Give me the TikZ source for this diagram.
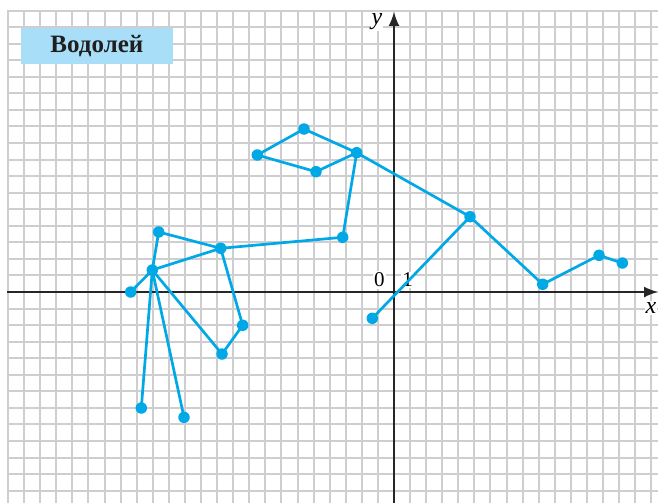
\documentclass[tikz,border=0pt]{standalone}
\usepackage{fontspec}
\setmainfont{Liberation Serif}
\usetikzlibrary{arrows.meta}
\definecolor{star}{RGB}{0,169,230}
\definecolor{gridc}{RGB}{206,206,209}
\definecolor{labelbg}{RGB}{168,222,247}
\begin{document}
\begin{tikzpicture}[x=1pt,y=-1pt,
  gridline/.style={gridc, line width=2pt},
  axis/.style={line width=1.6pt, black!85, -{Latex[length=14pt,width=11pt]}},
  dot/.style={circle, fill=star, inner sep=0pt, minimum size=11.5pt},
  link/.style={star, line width=2.7pt},
  axlabel/.style={fill=white, inner sep=1.5pt, font=\fontsize{21}{21}\selectfont}]
\useasboundingbox (0,0) rectangle (658,503);
% grid
\foreach \k in {-24,...,16} \draw[gridline] ({round(394+16.08*\k)},11) -- ({round(394+16.08*\k)},503);
\foreach \k in {-17,...,12} \draw[gridline] (7,{round(292+16.55*\k)}) -- (658,{round(292+16.55*\k)});
% axes
\coordinate (xs) at (7,292);
\coordinate (xe) at (658,292);
\coordinate (ys) at (394,503);
\coordinate (ye) at (394,12);
\draw[axis] (xs) -- (xe);
\draw[axis] (ys) -- (ye);
\node[axlabel, font=\itshape\fontsize{24}{24}\selectfont, inner sep=1pt] (xl) at (651,308) {x};
\node[axlabel, font=\itshape\fontsize{24}{24}\selectfont, inner sep=1pt] (yl) at (377,21.5) {y};
\node[axlabel] (zero) at (379.3,280) {0};
\node[axlabel] (one) at (407.7,280) {1};
% title
\node[fill=labelbg, minimum width=151.7pt, minimum height=36.6pt, inner sep=0pt,
      font=\bfseries\fontsize{25}{25}\selectfont, text=black!88] (title) at (96.85,46) {Водолей};
% stars
\node[dot] (A) at (130.7,292) {};
\node[dot] (B) at (152.3,270) {};
\node[dot] (C) at (158.7,232) {};
\node[dot] (D) at (220.7,248.3) {};
\node[dot] (E) at (242.7,325.3) {};
\node[dot] (F) at (222,354) {};
\node[dot] (G) at (141.3,408) {};
\node[dot] (H) at (184,417.3) {};
\node[dot] (I) at (342.7,237.3) {};
\node[dot] (J) at (356.7,152.7) {};
\node[dot] (K) at (257.3,155) {};
\node[dot] (L) at (304,129) {};
\node[dot] (M) at (316,171.7) {};
\node[dot] (N) at (470,216.7) {};
\node[dot] (O) at (542.7,284.3) {};
\node[dot] (P) at (599,255.3) {};
\node[dot] (Q) at (622.3,263) {};
\node[dot] (R) at (372.3,318.3) {};
\draw[link] (A.center) -- (B.center) -- (C.center) -- (D.center) -- (B.center);
\draw[link] (B.center) -- (G.center);
\draw[link] (B.center) -- (H.center);
\draw[link] (B.center) -- (F.center) -- (E.center) -- (D.center) -- (I.center) -- (J.center);
\draw[link] (K.center) -- (L.center) -- (J.center) -- (M.center) -- (K.center);
\draw[link] (J.center) -- (N.center) -- (O.center) -- (P.center) -- (Q.center);
\draw[link] (N.center) -- (R.center);
\end{tikzpicture}
\end{document}
